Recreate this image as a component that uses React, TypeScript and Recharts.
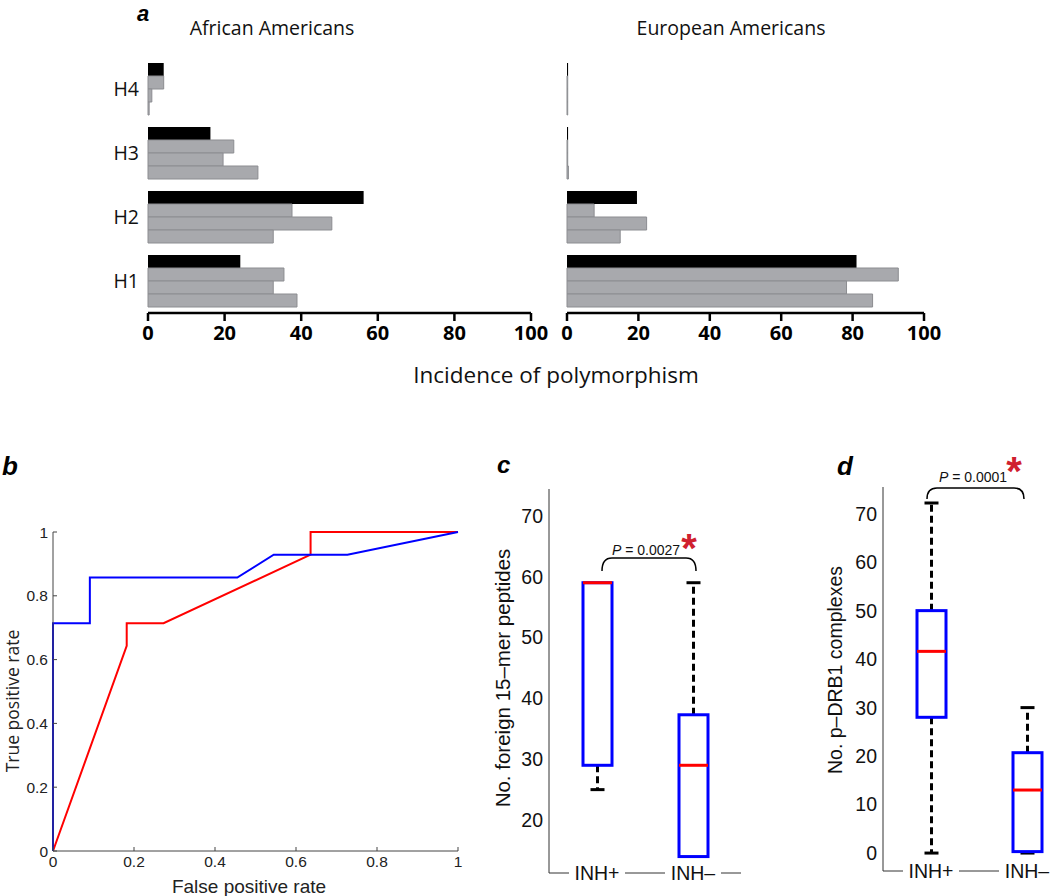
import React from 'react'
import {
  BarChart,
  Bar,
  LineChart,
  Line,
  ComposedChart,
  XAxis,
  YAxis,
} from 'recharts'

// panel a – incidence of polymorphism per haplotype
const haplotypes = ['H4', 'H3', 'H2', 'H1']
const afrObserved = [4.1, 16.3, 56.3, 24.1]
const afrSim1 = [4.1, 22.4, 37.6, 35.5]
const afrSim2 = [1.0, 19.6, 48.0, 32.7]
const afrSim3 = [0.3, 28.7, 32.7, 38.9]
const eurObserved = [0.3, 0.3, 19.6, 81.1]
const eurSim1 = [0.2, 0.2, 7.6, 92.8]
const eurSim2 = [0.2, 0.2, 22.3, 78.3]
const eurSim3 = [0.2, 0.4, 14.9, 85.6]
const incidenceTicks = [0, 20, 40, 60, 80, 100]

// panel b – ROC curves
const blueFpr = [0, 0, 0.091, 0.091, 0.455, 0.545, 0.727, 1]
const blueTpr = [0, 0.714, 0.714, 0.857, 0.857, 0.929, 0.929, 1]
const redFpr = [0, 0.182, 0.182, 0.273, 0.636, 0.636, 1]
const redTpr = [0, 0.643, 0.714, 0.714, 0.929, 1, 1]
const rateTicks = [0, 0.2, 0.4, 0.6, 0.8, 1]

// panels c, d – box plots
const groups = ['INH+', 'INH–']
const pepMin = [25, 14]
const pepQ1 = [29, 14]
const pepMedian = [59, 29]
const pepQ3 = [59, 37.3]
const pepMax = [59, 59]
const pepTicks = [20, 30, 40, 50, 60, 70]
const cpxMin = [0, 0]
const cpxQ1 = [28, 0.3]
const cpxMedian = [41.6, 13]
const cpxQ3 = [50, 20.7]
const cpxMax = [72.2, 30]
const cpxTicks = [0, 10, 20, 30, 40, 50, 60, 70]

const SANS = '"Liberation Sans", Arial, sans-serif'
const OPEN = '"Open Sans", sans-serif'

const afrData = haplotypes.map((h, i) => ({
  h,
  obs: afrObserved[i],
  s1: afrSim1[i],
  s2: afrSim2[i],
  s3: afrSim3[i],
}))
const eurData = haplotypes.map((h, i) => ({
  h,
  obs: eurObserved[i],
  s1: eurSim1[i],
  s2: eurSim2[i],
  s3: eurSim3[i],
}))
const blueData = blueFpr.map((x, i) => ({ x, y: blueTpr[i] }))
const redData = redFpr.map((x, i) => ({ x, y: redTpr[i] }))
const pepData = groups.map((g, i) => ({
  g, min: pepMin[i], q1: pepQ1[i], med: pepMedian[i], q3: pepQ3[i], max: pepMax[i],
}))
const cpxData = groups.map((g, i) => ({
  g, min: cpxMin[i], q1: cpxQ1[i], med: cpxMedian[i], q3: cpxQ3[i], max: cpxMax[i],
}))

function BoxShape(props: any) {
  const { x, y, width, height, payload } = props
  const top = Math.min(y, y + height)
  const h = Math.abs(height)
  const k = h / (payload.q3 - payload.q1)
  const py = (v: number) => top + (payload.q3 - v) * k
  const cx = x + width / 2
  const cap = 7
  return (
    <g>
      {payload.max > payload.q3 && (
        <g>
          <line x1={cx} x2={cx} y1={py(payload.q3)} y2={py(payload.max)} stroke="#000" strokeWidth={3} strokeDasharray="7 4" />
          <line x1={cx - cap} x2={cx + cap} y1={py(payload.max)} y2={py(payload.max)} stroke="#000" strokeWidth={3} />
        </g>
      )}
      {payload.min < payload.q1 && (
        <g>
          <line x1={cx} x2={cx} y1={py(payload.q1)} y2={py(payload.min)} stroke="#000" strokeWidth={3} strokeDasharray="7 4" />
          <line x1={cx - cap} x2={cx + cap} y1={py(payload.min)} y2={py(payload.min)} stroke="#000" strokeWidth={3} />
        </g>
      )}
      <rect x={x} y={top} width={width} height={h} fill="#fff" stroke="#0000ff" strokeWidth={3} />
      <line x1={x} x2={x + width} y1={py(payload.med)} y2={py(payload.med)} stroke="#ff0000" strokeWidth={3} />
    </g>
  )
}

function GroupTick(props: any) {
  const { x, y, payload } = props
  return (
    <g>
      <rect x={x - 28} y={y - 12} width={56} height={24} fill="#fff" />
      <text x={x} y={y + 7} textAnchor="middle" fontSize={19.5} fontFamily={SANS} fill="#111">
        {payload.value}
      </text>
    </g>
  )
}

function IncidenceChart({ data, showLabels }: { data: any[]; showLabels: boolean }) {
  return (
    <BarChart
      width={showLabels ? 560 : 440}
      height={360}
      data={data}
      layout="vertical"
      barCategoryGap={6}
      barGap={0}
      margin={{ top: 57, right: showLabels ? 29 : 56, left: showLabels ? 0 : 27, bottom: 7 }}
    >
      <XAxis
        type="number"
        domain={[0, 100]}
        ticks={incidenceTicks}
        height={40}
        axisLine={{ stroke: '#000', strokeWidth: 2.5 }}
        tickLine={{ stroke: '#000', strokeWidth: 2.5 }}
        tickSize={8}
        tickMargin={5}
        tick={{ fill: '#000', fontSize: 20, fontWeight: 700, fontFamily: OPEN }}
        interval={0}
      />
      <YAxis
        type="category"
        dataKey="h"
        width={148}
        hide={!showLabels}
        axisLine={false}
        tickLine={false}
        tickSize={0}
        tickMargin={9}
        tick={{ fill: '#111', fontSize: 19.5, fontFamily: OPEN }}
      />
      <Bar dataKey="obs" barSize={13} fill="#000" isAnimationActive={false} />
      <Bar dataKey="s1" barSize={13} fill="#a8a9ad" stroke="#8c8d91" strokeWidth={1} isAnimationActive={false} />
      <Bar dataKey="s2" barSize={13} fill="#a8a9ad" stroke="#8c8d91" strokeWidth={1} isAnimationActive={false} />
      <Bar dataKey="s3" barSize={13} fill="#a8a9ad" stroke="#8c8d91" strokeWidth={1} isAnimationActive={false} />
    </BarChart>
  )
}

function BoxChart({ data, domain, ticks, width, height, marginTop, marginRight, axisWidth, axisHeight }: any) {
  return (
    <ComposedChart
      width={width}
      height={height}
      data={data}
      barCategoryGap={0}
      margin={{ top: marginTop, right: marginRight, left: 0, bottom: 0 }}
    >
      <XAxis
        dataKey="g"
        height={axisHeight}
        axisLine={{ stroke: '#333', strokeWidth: 1 }}
        tickLine={false}
        tickSize={0}
        tickMargin={0}
        tick={<GroupTick />}
        interval={0}
      />
      <YAxis
        type="number"
        domain={domain}
        ticks={ticks}
        width={axisWidth}
        allowDataOverflow
        axisLine={{ stroke: '#333', strokeWidth: 1 }}
        tickLine={false}
        tickSize={0}
        tickMargin={6}
        tick={{ fill: '#111', fontSize: 19.5, fontFamily: SANS }}
        interval={0}
      />
      <Bar
        dataKey={(d: any) => [d.q1, d.q3]}
        barSize={29}
        shape={<BoxShape />}
        isAnimationActive={false}
      />
    </ComposedChart>
  )
}

export default function App() {
  return (
    <div
      style={{
        position: 'absolute',
        left: 0,
        top: 0,
        width: 1050,
        height: 896,
        overflow: 'hidden',
        background: '#fff',
        fontFamily: SANS,
      }}
    >
      <div style={{ position: 'absolute', left: 0, top: 0 }}>
        <IncidenceChart data={afrData} showLabels />
      </div>
      <div style={{ position: 'absolute', left: 540, top: 0 }}>
        <IncidenceChart data={eurData} showLabels={false} />
      </div>

      <div style={{ position: 'absolute', left: 0, top: 500 }}>
        <LineChart width={480} height={396} margin={{ top: 32, right: 22, left: 0, bottom: 15 }}>
          <XAxis
            type="number"
            dataKey="x"
            domain={[0, 1]}
            ticks={rateTicks}
            height={30}
            axisLine={{ stroke: '#444', strokeWidth: 1 }}
            tickLine={{ stroke: '#444', strokeWidth: 1 }}
            tickSize={-4}
            tickMargin={9}
            tick={{ fill: '#222', fontSize: 15.5, fontFamily: SANS }}
            interval={0}
          />
          <YAxis
            type="number"
            domain={[0, 1]}
            ticks={rateTicks}
            width={53}
            axisLine={{ stroke: '#444', strokeWidth: 1 }}
            tickLine={{ stroke: '#444', strokeWidth: 1 }}
            tickSize={-4}
            tickMargin={9}
            tick={{ fill: '#222', fontSize: 15.5, fontFamily: SANS }}
            interval={0}
          />
          <Line data={redData} dataKey="y" type="linear" stroke="#ff0000" strokeWidth={2} dot={false} isAnimationActive={false} />
          <Line data={blueData} dataKey="y" type="linear" stroke="#0000ff" strokeWidth={2} dot={false} isAnimationActive={false} />
        </LineChart>
      </div>

      <div style={{ position: 'absolute', left: 480, top: 480 }}>
        <BoxChart
          data={pepData}
          domain={[11.3, 74.4]}
          ticks={pepTicks}
          width={270}
          height={416}
          marginTop={9}
          marginRight={9}
          axisWidth={69}
          axisHeight={23}
        />
      </div>
      <div style={{ position: 'absolute', left: 820, top: 478 }}>
        <BoxChart
          data={cpxData}
          domain={[-3.7, 75.5]}
          ticks={cpxTicks}
          width={270}
          height={418}
          marginTop={9}
          marginRight={15}
          axisWidth={63}
          axisHeight={25}
        />
      </div>

      <svg
        width={1050}
        height={896}
        style={{ position: 'absolute', left: 0, top: 0, pointerEvents: 'none' }}
      >
        <text x={137} y={21} fontSize={22} fontWeight={700} fontStyle="italic" fontFamily={SANS}>a</text>
        <text x={272} y={35} textAnchor="middle" fontSize={19.5} fontFamily={OPEN} fill="#111">African Americans</text>
        <text x={731} y={35} textAnchor="middle" fontSize={19.5} fontFamily={OPEN} fill="#111">European Americans</text>
        <text x={556} y={383} textAnchor="middle" fontSize={22.5} fontFamily={OPEN} fill="#111">Incidence of polymorphism</text>

        <text x={2} y={475} fontSize={26} fontWeight={700} fontStyle="italic" fontFamily={SANS}>b</text>
        <text x={19} y={701} transform="rotate(-90 19 701)" textAnchor="middle" fontSize={17.5} fontFamily={OPEN} fill="#222">True positive rate</text>
        <text x={249} y={893} textAnchor="middle" fontSize={19} fontFamily={SANS} fill="#222">False positive rate</text>

        <text x={497} y={473} fontSize={24} fontWeight={700} fontStyle="italic" fontFamily={SANS}>c</text>
        <text x={510} y={678} transform="rotate(-90 510 678)" textAnchor="middle" fontSize={20.5} fontFamily={SANS} fill="#111">No. foreign 15–mer peptides</text>
        <path d="M602,571 Q602,558 612,558 L686,558 Q696,558 696,571" fill="none" stroke="#000" strokeWidth={1.5} />
        <text x={646} y={555} textAnchor="middle" fontSize={14} fontFamily={SANS} fill="#111">
          <tspan fontStyle="italic">P</tspan> = 0.0027
        </text>
        <text x={689} y={562} textAnchor="middle" fontSize={40} fontWeight={700} fontFamily={SANS} fill="#d0202e">*</text>

        <text x={837} y={475} fontSize={26} fontWeight={700} fontStyle="italic" fontFamily={SANS}>d</text>
        <text x={842} y={670} transform="rotate(-90 842 670)" textAnchor="middle" fontSize={19.5} fontFamily={SANS} fill="#111">No. p–DRB1 complexes</text>
        <path d="M927,499 Q927,488 937,488 L1014,488 Q1024,488 1024,499" fill="none" stroke="#000" strokeWidth={1.5} />
        <text x={973} y={482} textAnchor="middle" fontSize={14} fontFamily={SANS} fill="#111">
          <tspan fontStyle="italic">P</tspan> = 0.0001
        </text>
        <text x={1014} y={485} textAnchor="middle" fontSize={40} fontWeight={700} fontFamily={SANS} fill="#d0202e">*</text>
      </svg>
    </div>
  )
}
